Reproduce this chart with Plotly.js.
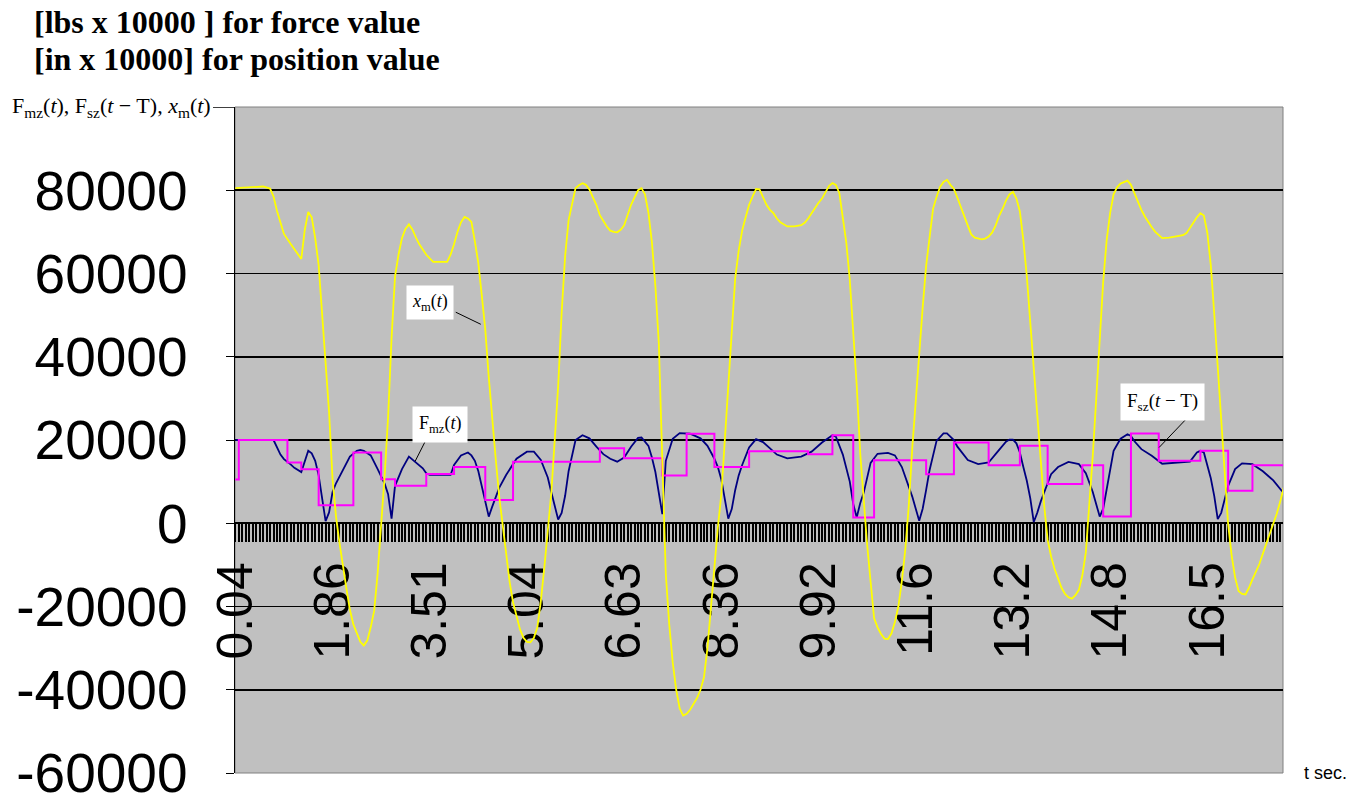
<!DOCTYPE html>
<html>
<head>
<meta charset="utf-8">
<script src="https://cdn.plot.ly/plotly-3.0.1.min.js"></script>
<style>
  html, body { margin: 0; padding: 0; background: #ffffff; }
  #chart { width: 1358px; height: 798px; }
</style>
</head>
<body>
<div id="chart"></div>
<script>
// ---- category (sample) axis labels: one label every 28 samples ----
const tickLabels = ['0.04','1.86','3.51','5.04','6.63','8.36','9.92','11.6','13.2','14.8','16.5'];
const tickEvery = 28;

// ---- x_m(t): position (yellow) : sample index / value ----
const xmIdx = [0,5,8,10,11,12,14,16,18,19,20,21,22,23,24,25,26,27,28,29,30,31,32,33,34,35,36,37,38,39,40,41,42,43,44,45,46,47,48,49,50,51,52,53,55,57,61,62,63,64,65,66,67,68,69,70,71,72,73,74,75,76,77,78,79,80,81,82,83,84,85,86,87,88,89,90,91,92,93,94,95,96,97,98,99,100,101,102,103,104,105,106,107,108,109,110,111,112,113,114,115,116,117,118,119,120,121,122,123,124,125,126,127,128,129,130,131,132,133,134,135,136,137,138,139,140,141,142,143,144,145,146,147,148,149,150,151,152,153,154,155,156,157,159,161,163,164,165,166,167,168,169,170,171,172,173,174,175,176,177,178,179,180,181,182,183,184,185,186,187,188,189,190,191,192,193,194,195,196,197,198,199,200,201,202,203,204,205,206,207,208,209,210,211,212,213,215,216,217,218,219,220,221,222,223,224,225,226,227,228,229,230,231,232,233,234,235,236,237,238,239,240,241,242,243,244,245,246,247,248,249,250,251,252,253,254,255,256,257,258,259,260,261,262,263,264,265,266,267,269,271,273,274,275,276,277,278,279,280,281,282,283,284,285,286,287,288,289,290,291,292,293,294,295,296,297,298,299,300,301,302,303];
const xmVal = [80500,80700,80900,80400,78500,75000,69500,67000,64500,63500,70500,74800,73500,68500,62000,51000,39400,26700,10600,1600,-4700,-10600,-15700,-20800,-24300,-26400,-28500,-29400,-28200,-25000,-21000,-12000,-700,11300,25500,44500,59300,64500,68500,70700,71800,70600,68700,67000,64500,62800,62800,64500,67000,70000,72300,73600,73200,72400,67700,62500,54700,46500,35100,24200,15500,6500,-400,-7000,-14000,-19000,-22500,-25500,-27500,-28500,-28600,-27500,-25000,-18700,-10700,-1900,7100,19900,33000,50600,64200,72800,77000,80500,81200,81700,81300,80200,78300,76500,74000,72600,71300,70300,70000,69900,70500,71600,74300,76500,78300,80000,80500,79000,74600,67500,57000,43100,15000,-12200,-24400,-33500,-40000,-44500,-46200,-45800,-44800,-43500,-42000,-40000,-37000,-30000,-20000,-10000,-1000,7000,19900,33000,47900,58900,65500,70300,73500,76500,78500,80300,80200,78500,76500,75300,74500,73200,72300,71300,71300,71600,72200,73200,74500,75800,77000,78000,79500,81000,81700,81300,79300,73600,67400,58500,46600,33100,16900,4900,-5100,-14000,-22800,-25000,-26600,-27700,-27800,-26500,-23700,-20000,-13900,-6300,4300,18000,30000,41200,51800,61900,69500,75600,78400,80800,82000,82500,81300,80300,78200,75800,73600,71500,69400,68600,68200,68400,68900,69800,71500,73800,75500,77500,79000,79600,78000,74900,68000,59400,48200,37200,26000,15000,4300,-4000,-8000,-11000,-13500,-15500,-17000,-17800,-18100,-17300,-16000,-12500,-7000,3600,16200,30000,43000,58000,68000,74500,79000,80700,81600,82000,82300,81300,79200,77300,75300,73700,72300,71100,70000,69200,68500,68600,68900,69200,69700,71000,72300,73500,74500,73900,69800,62000,50200,37400,24500,12500,-300,-7700,-13000,-16300,-17000,-17100,-15500,-13500,-11800,-9800,-7300,-5000,-2700,-200,2300,5200,8500,11000];

// ---- F_mz(t): force (navy) ----
const fmIdx = [0,11,13,14,16,17,19,20,21,22,23,24,25,26,27,28,29,31,33,35,36,37,39,41,43,44,45,46,47,48,50,52,54,55,56,62,63,65,67,68,69,70,71,72,73,74,75,76,78,79,81,84,86,88,90,91,92,93,94,95,96,97,98,100,102,104,106,108,110,112,114,116,117,119,120,121,122,123,124,125,126,128,131,134,136,138,139,140,141,142,143,144,145,146,148,150,152,154,156,159,163,166,169,172,173,175,177,178,179,180,181,183,185,188,190,192,194,195,197,198,199,200,202,204,205,207,208,211,214,217,219,222,223,224,225,226,227,228,229,230,231,232,234,235,237,240,243,245,247,248,249,250,251,252,253,255,257,258,259,261,264,267,271,275,277,278,279,280,281,282,283,284,285,286,288,290,293,296,299,302,303];
const fmVal = [20000,20000,16500,15400,14100,13300,12300,15000,17400,16800,15000,11500,6500,500,2600,7500,9600,13000,16000,17400,17600,17400,16300,13000,9500,7000,1100,9000,11000,13000,16000,14600,13200,12000,11600,11600,14000,16300,17000,16300,15000,12500,9000,5500,1600,4000,6200,8500,11600,12800,15500,17200,17200,15200,11000,7500,4000,900,2500,6600,12500,16500,20000,21150,20400,18400,16600,15500,14800,15800,18400,20500,20600,18600,15800,12300,7000,2200,15000,17800,20300,21650,21500,20400,18600,15500,13500,10500,6000,1100,3400,8000,11500,14000,18200,20200,19500,18000,16500,15600,16000,17200,19400,21150,20800,16500,10000,4600,1400,4800,7300,14500,16700,16900,16300,13500,9000,6400,600,3500,8000,12800,19800,21600,21600,20000,18400,15200,14200,14600,16600,19600,20100,20100,19200,17000,13500,10200,6000,300,2500,5200,9600,11800,13500,14750,14200,12000,7500,4800,1600,3500,8500,13500,17400,20300,21400,21000,19700,17800,16200,14300,14600,14800,17000,17400,17000,14000,10800,6500,1000,2500,5500,9000,13000,14400,14200,12500,10300,7200,6800];

// ---- F_sz(t - T): delayed force (magenta step) ----
const fsIdx = [0,1,15,19,24,34,42,46,55,63,72,80,105,112,123,130,138,148,165,172,178,184,199,207,217,226,234,244,250,258,266,278,286,293,303];
const fsVal = [10500,20000,14600,13000,4300,17000,10600,9000,11850,13500,5600,14800,18000,15600,11500,21500,13500,17300,16600,21150,1400,15150,11800,19400,13950,18600,9400,13950,1600,21550,15000,17400,7800,13950,13950];

const yTickVals = [-60000,-40000,-20000,0,20000,40000,60000,80000];
const yTickText = ['-60000','-40000','-20000','0','20000','40000','60000','80000'];

const titleLines = ['[lbs x 10000 ] for force value', '[in x 10000] for position value'];

const tickVals = tickLabels.map((_, i) => i * tickEvery);

const traces = [
  { x: fmIdx, y: fmVal, type: 'scatter', mode: 'lines', name: 'F_mz(t)',
    line: { color: '#000080', width: 1.8 } },
  { x: fsIdx, y: fsVal, type: 'scatter', mode: 'lines', name: 'F_sz(t-T)',
    line: { color: '#FF00FF', width: 2, shape: 'hv' } },
  { x: xmIdx, y: xmVal, type: 'scatter', mode: 'lines', name: 'x_m(t)',
    line: { color: '#FFFF00', width: 1.8 } }
];

const serif = 'Liberation Serif, Times New Roman, serif';
const sans = 'Liberation Sans, Arial, sans-serif';
const plotW = 1048, plotH = 666, plotL = 235, plotT = 107;
const px2paperX = p => (p - plotL) / plotW;
const px2paperY = p => 1 + (plotT - p) / plotH;

const layout = {
  width: 1358, height: 798,
  margin: { l: 235, r: 75, t: 107, b: 25, pad: 0 },
  paper_bgcolor: '#ffffff',
  plot_bgcolor: '#C0C0C0',
  showlegend: false,
  hovermode: false,
  xaxis: {
    range: [-0.1, 301.8],
    anchor: 'free', position: 0.375,
    showgrid: false, zeroline: false,
    showline: true, linecolor: '#000000', linewidth: 2,
    tickmode: 'array', tickvals: tickVals, ticktext: tickLabels,
    ticks: 'outside', ticklen: 18, tickwidth: 2, tickcolor: '#000000',
    minor: { dtick: 1, tick0: 0, ticks: 'outside', ticklen: 18, tickwidth: 2, tickcolor: '#000000', showgrid: false },
    tickangle: -90,
    ticklabelstandoff: 0,
    ticklabeloverflow: 'allow',
    tickfont: { family: sans, size: 50, color: '#000000' },
    layer: 'below traces',
    automargin: false, fixedrange: true
  },
  yaxis: {
    range: [-60000, 100000],
    tickmode: 'array', tickvals: yTickVals, ticktext: yTickText,
    showgrid: true, gridcolor: '#000000', gridwidth: 1.8,
    zeroline: false,
    showline: true, linecolor: '#000000', linewidth: 1.5,
    ticks: 'outside', ticklen: 8, tickwidth: 1, tickcolor: '#000000',
    ticklabelstandoff: 27,
    ticklabeloverflow: 'allow',
    tickfont: { family: sans, size: 55, color: '#000000' },
    automargin: false, fixedrange: true
  },
  shapes: [
    { type: 'rect', xref: 'paper', yref: 'paper', x0: 0, x1: 1, y0: 0, y1: 1,
      line: { color: '#808080', width: 1 }, fillcolor: 'rgba(0,0,0,0)', layer: 'below' },
    { type: 'line', xref: 'paper', yref: 'y', x0: -22 / plotW, x1: 0, y0: 100000, y1: 100000,
      line: { color: '#000000', width: 1.5 } },
    // leader lines of the labels
    { type: 'line', xref: 'x', yref: 'y', x0: 63.5, y0: 50700, x1: 70.7, y1: 47800, line: { color: '#000000', width: 1 } },
    { type: 'line', xref: 'x', yref: 'y', x0: 54.6, y0: 19500, x1: 51.8, y1: 14900, line: { color: '#000000', width: 1 } },
    { type: 'line', xref: 'x', yref: 'y', x0: 274.1, y0: 25200, x1: 266.1, y1: 18200, line: { color: '#000000', width: 1 } }
  ],
  annotations: [
    { xref: 'paper', yref: 'paper', x: px2paperX(32), y: px2paperY(22), xanchor: 'left', yanchor: 'middle',
      showarrow: false, text: '<b>' + titleLines[0] + '</b>',
      font: { family: serif, size: 32, color: '#000000' } },
    { xref: 'paper', yref: 'paper', x: px2paperX(32), y: px2paperY(59), xanchor: 'left', yanchor: 'middle',
      showarrow: false, text: '<b>' + titleLines[1] + '</b>',
      font: { family: serif, size: 32, color: '#000000' } },
    { xref: 'paper', yref: 'y', x: 0, y: 100000, xanchor: 'right', yanchor: 'middle', xshift: -22,
      showarrow: false,
      text: 'F<sub>mz</sub>(<i>t</i>), F<sub>sz</sub>(<i>t</i> − T), <i>x</i><sub>m</sub>(<i>t</i>)',
      font: { family: serif, size: 22, color: '#000000' } },
    { xref: 'x', yref: 'y', x: 56.0, y: 53000, showarrow: false,
      text: '<i>x</i><sub>m</sub>(<i>t</i>)', bgcolor: '#ffffff', borderpad: 5,
      font: { family: serif, size: 18, color: '#000000' } },
    { xref: 'x', yref: 'y', x: 58.9, y: 23700, showarrow: false,
      text: 'F<sub>mz</sub>(<i>t</i>)', bgcolor: '#ffffff', borderpad: 6,
      font: { family: serif, size: 18, color: '#000000' } },
    { xref: 'x', yref: 'y', x: 267.2, y: 29100, showarrow: false,
      text: 'F<sub>sz</sub>(<i>t</i> − T)', bgcolor: '#ffffff', borderpad: 6,
      font: { family: serif, size: 19, color: '#000000' } },
    { xref: 'paper', yref: 'y', x: px2paperX(1302), y: -60000, xanchor: 'left', yanchor: 'middle',
      showarrow: false, text: 't sec.',
      font: { family: sans, size: 18, color: '#000000' } }
  ]
};

Plotly.newPlot('chart', traces, layout, { staticPlot: true, displayModeBar: false });
</script>
</body>
</html>
